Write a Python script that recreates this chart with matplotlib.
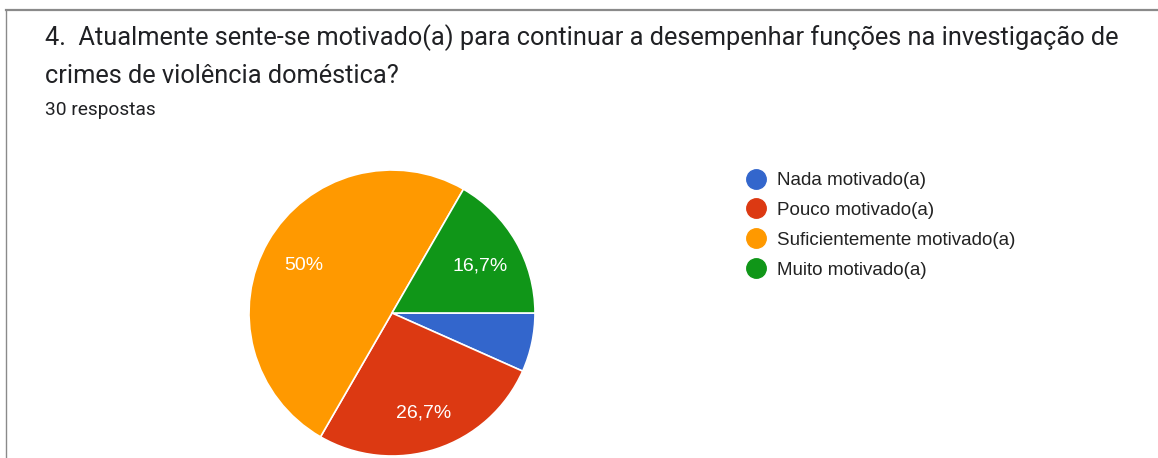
import matplotlib
matplotlib.use('Agg')
import matplotlib.pyplot as plt
from matplotlib.lines import Line2D

# ── data ─────────────────────────────────────────────────────────────────────
categories = ['Nada motivado(a)', 'Pouco motivado(a)',
              'Suficientemente motivado(a)', 'Muito motivado(a)']
counts = [2, 8, 15, 5]
colors = ['#3366cc', '#dc3912', '#ff9900', '#109618']

title_l1 = '4.  Atualmente sente-se motivado(a) para continuar a desempenhar funções na investigação de'
title_l2 = 'crimes de violência doméstica?'
subtitle = '30 respostas'

W, H = 1158, 458
plt.rcParams['font.family'] = ['Roboto', 'DejaVu Sans']
CHART_FONT = ['Liberation Sans', 'DejaVu Sans']

fig = plt.figure(figsize=(W / 100, H / 100), dpi=100, facecolor='white')


def fx(px):
    return px / W


def fy(py):
    return 1 - py / H


# card border (top + left edge)
fig.add_artist(Line2D([fx(6), 1], [fy(10), fy(10)], color='#8a8a8a', lw=1.6))
fig.add_artist(Line2D([fx(6), fx(6)], [fy(10), 0], color='#8a8a8a', lw=1.0))

fig.text(fx(45), fy(45), title_l1, fontsize=18.25, color='#202124', va='baseline')
fig.text(fx(45), fy(83), title_l2, fontsize=18.25, color='#202124', va='baseline')
fig.text(fx(45), fy(115), subtitle, fontsize=13.8, color='#202124', va='baseline')

# pie: centre (392, 313), radius 143 px
cx, cy, r = 392, 313, 143
ax = fig.add_axes([fx(cx - r), fy(cy + r), (2 * r) / W, (2 * r) / H])


def pct_label(p):
    if p < 10:
        return ''
    s = f'{p:.1f}'.rstrip('0').rstrip('.')
    return s.replace('.', ',') + '%'


wedges, texts, autotexts = ax.pie(
    counts, colors=colors, startangle=0, counterclock=False,
    autopct=pct_label, pctdistance=0.71,
    wedgeprops=dict(edgecolor='white', linewidth=1.2),
    textprops=dict(color='white', fontsize=14, family=CHART_FONT))
# labels sit a touch lower in the original
for t in autotexts:
    x, y = t.get_position()
    t.set_position((x, y - 0.025))
ax.set_xlim(-1, 1)
ax.set_ylim(-1, 1)
ax.set_aspect('equal')
ax.axis('off')
for w in wedges:
    w.set_clip_on(False)

handles = [Line2D([], [], marker='o', linestyle='none', markersize=14,
                  markerfacecolor=c, markeredgecolor=c) for c in colors]
fig.legend(handles, categories, loc='upper left',
           bbox_to_anchor=(fx(748), fy(172)), frameon=False,
           prop=dict(family=CHART_FONT, size=13.5), labelcolor='#222222',
           handlelength=0.9, handletextpad=0.67, labelspacing=0.68,
           borderpad=0, borderaxespad=0)

plt.savefig('out.png', dpi=100, facecolor='white')
